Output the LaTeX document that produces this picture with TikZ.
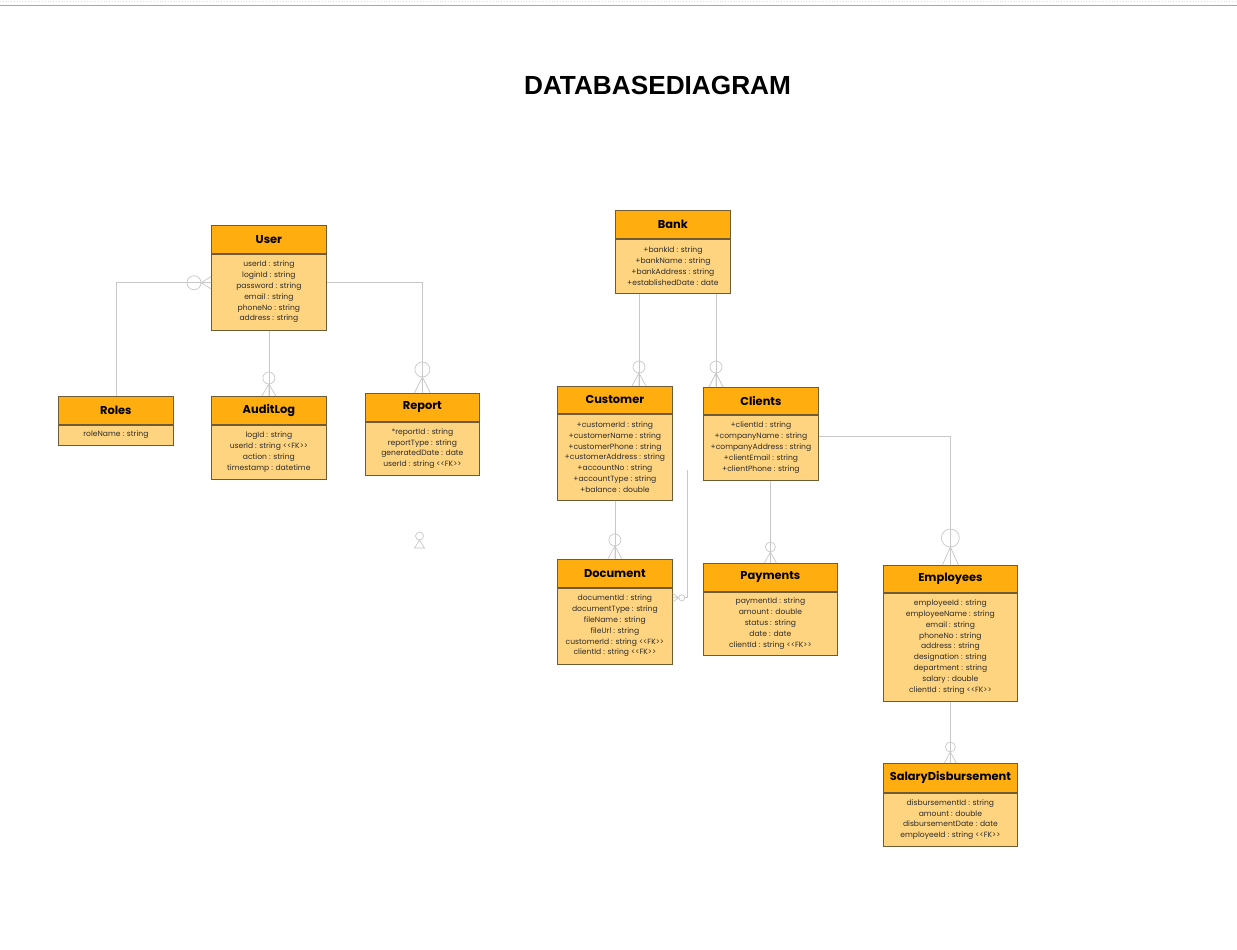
\documentclass[tikz,border=0pt]{standalone}
\usepackage{fontspec}
\setmainfont{Poppins}
\newfontfamily\titlefont{Liberation Sans}
\usetikzlibrary{calc}
\definecolor{hdrfill}{RGB}{255,173,15}
\definecolor{bdyfill}{RGB}{255,212,128}
\definecolor{edge}{RGB}{112,92,52}
\definecolor{connc}{RGB}{200,200,200}
\definecolor{txt}{RGB}{45,45,45}
\tikzset{
  hdr/.style={draw=edge, fill=hdrfill, line width=0.75pt, inner sep=0pt,
    font=\fontsize{11.4}{13}\selectfont\bfseries, text=black},
  bdy/.style={draw=edge, fill=bdyfill, line width=0.75pt, inner sep=0pt,
    align=center, font=\fontsize{7.6}{10.8}\selectfont, text=txt},
  conn/.style={draw=connc, line width=0.7pt},
  pics/zmany/.style args={#1/#2/#3}{code={
    \draw[conn] (0,-#1) -- (-#2,0) (0,-#1) -- (#2,0) (0,-#1) -- (0,0);
    \draw[conn] (0,-#1-#3) circle[radius=#3pt];
  }}
}
\newcommand\dbentity[8]{%
  \node[hdr, minimum width=#4pt, minimum height=#5pt, anchor=north west] (#1h) at (#2,#3) {#7};
  \node[bdy, minimum width=#4pt, minimum height=#6pt, anchor=north west] (#1b) at (#1h.south west) {#8};
}
\begin{document}
\begin{tikzpicture}[x=1pt,y=-1pt]
\useasboundingbox (0,0) rectangle (1237,950);
\fill[white] (0,0) rectangle (1237,950);
\draw[gray!25, line width=0.8pt, dotted] (0,1) -- (1237,1);
\draw[gray!70, line width=1pt] (0,5.5) -- (1237,5.5);
\node[font=\titlefont\fontsize{26.2}{30}\selectfont\bfseries, anchor=base] (title) at (657.5,94) {DATABASEDIAGRAM};

\dbentity{user}{211}{225}{115}{28}{76}{User}{userId : string\\ loginId : string\\ password : string\\ email : string\\ phoneNo : string\\ address : string}
\dbentity{roles}{58}{396}{115}{28}{20}{Roles}{roleName : string}
\dbentity{audit}{211}{396}{115}{28}{54}{AuditLog}{logId : string\\ userId : string <{}<FK>{}>\\ action : string\\ timestamp : datetime}
\dbentity{report}{365}{393}{114}{28}{53}{Report}{*reportId : string\\ reportType : string\\ generatedDate : date\\ userId : string <{}<FK>{}>}
\dbentity{bank}{615}{210}{115}{28}{54}{Bank}{+bankId : string\\ +bankName : string\\ +bankAddress : string\\ +establishedDate : date}
\dbentity{cust}{557}{386}{115}{27}{86}{Customer}{+customerId : string\\ +customerName : string\\ +customerPhone : string\\ +customerAddress : string\\ +accountNo : string\\ +accountType : string\\ +balance : double}
\dbentity{cli}{703}{387}{115}{27}{65}{Clients}{+clientId : string\\ +companyName : string\\ +companyAddress : string\\ +clientEmail : string\\ +clientPhone : string}
\dbentity{doc}{557}{559}{115}{28}{76}{Document}{documentId : string\\ documentType : string\\ fileName : string\\ fileUrl : string\\ customerId : string <{}<FK>{}>\\ clientId : string <{}<FK>{}>}
\dbentity{pay}{703}{563}{134}{28}{63}{Payments}{paymentId : string\\ amount : double\\ status : string\\ date : date\\ clientId : string <{}<FK>{}>}
\dbentity{emp}{883}{565}{134}{27}{108}{Employees}{employeeId : string\\ employeeName : string\\ email : string\\ phoneNo : string\\ address : string\\ designation : string\\ department : string\\ salary : double\\ clientId : string <{}<FK>{}>}
\dbentity{sal}{883}{763}{134}{29}{53}{SalaryDisbursement}{disbursementId : string\\ amount : double\\ disbursementDate : date\\ employeeId : string <{}<FK>{}>}

% User - Roles
\coordinate (uL) at ($(userb.north west)+(0,29)$);
\draw[conn] (uL) -| (rolesh.north);
\pic[rotate=90] at (uL) {zmany=10/6/7};
% User - AuditLog
\draw[conn] (userb.south) -- (audith.north);
\pic at (audith.north) {zmany=12/7/6};
% User - Report
\coordinate (uR) at ($(userb.north east)+(0,29)$);
\draw[conn] (uR) -| (reporth.north);
\pic at (reporth.north) {zmany=16/8/7.5};
% Bank - Customer
\coordinate (bx1) at (639,0);
\draw[conn] (bankb.south -| bx1) -- (custh.north -| bx1);
\pic at (custh.north -| bx1) {zmany=13/7/6};
% Bank - Clients
\coordinate (bx2) at (716,0);
\draw[conn] (bankb.south -| bx2) -- (clih.north -| bx2);
\pic at (clih.north -| bx2) {zmany=14/7/6};
% Customer - Document
\draw[conn] (custb.south) -- (doch.north);
\pic at (doch.north) {zmany=13/7/6};
% Clients - Payments
\draw[conn] (clib.south -| payh.north) -- (payh.north);
\pic at (payh.north) {zmany=11/6/5};
% Clients - Employees
\coordinate (cR) at ($(clib.north east)+(0,22)$);
\draw[conn] (cR) -| (emph.north);
\pic at (emph.north) {zmany=18/8/9};
% Employees - SalaryDisbursement
\draw[conn] (empb.south) -- (salh.north);
\pic at (salh.north) {zmany=11/6/5};
% stray line to Document
\coordinate (dR) at ($(docb.north east)+(0,10)$);
\coordinate (vtop) at (687,470);
\draw[conn] (vtop) |- ($(dR)+(12,0)$);
\pic[rotate=-90] at (dR) {zmany=6/4/3};
% stray symbol below Report
\coordinate (st) at (419.5,548);
\draw[conn] (st) ++(-5,0) -- ++(5,-8) -- ++(5,8) -- cycle;
\draw[conn] ($(st)+(0,-12)$) circle[radius=4pt];
\end{tikzpicture}
\end{document}
